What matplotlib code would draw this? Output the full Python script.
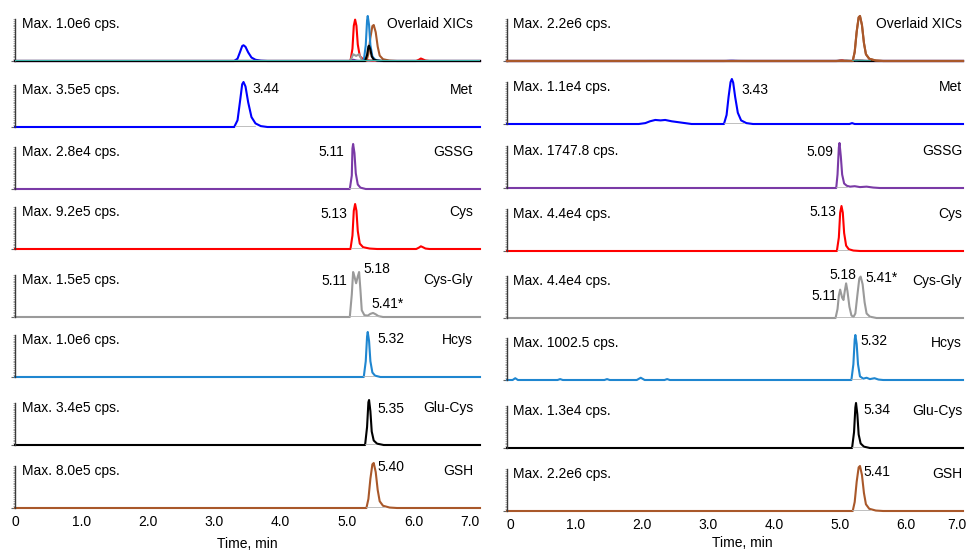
import numpy as np
import matplotlib
matplotlib.use("Agg")
import matplotlib.pyplot as plt
from matplotlib.transforms import blended_transform_factory

plt.rcParams['font.family'] = ['Liberation Sans', 'DejaVu Sans']
plt.rcParams['font.size'] = 10

# ---- data (time in min, intensity relative to panel max) ----
compounds = ['Met', 'GSSG', 'Cys', 'Cys-Gly', 'Hcys', 'Glu-Cys', 'GSH']
colors = ['#0000ff', '#7a3aa6', '#ff0000', '#9a9a9a', '#1f86d0', '#000000', '#a9582a']

left_max_cps = [1.0e6, 3.5e5, 2.8e4, 9.2e5, 1.5e5, 1.0e6, 3.4e5, 8.0e5]
left_max_text = ['1.0e6', '3.5e5', '2.8e4', '9.2e5', '1.5e5', '1.0e6', '3.4e5', '8.0e5']
right_max_cps = [2.2e6, 1.1e4, 1747.8, 4.4e4, 4.4e4, 1002.5, 1.3e4, 2.2e6]
right_max_text = ['2.2e6', '1.1e4', '1747.8', '4.4e4', '4.4e4', '1002.5', '1.3e4', '2.2e6']

time_ticks = [0, 1, 2, 3, 4, 5, 6, 7]
time_tick_labels = ['0', '1.0', '2.0', '3.0', '4.0', '5.0', '6.0', '7.0']

# left sample
met_left_t = [3.30, 3.35, 3.39, 3.42, 3.44, 3.47, 3.51, 3.56, 3.62, 3.70, 3.80]
met_left_i = [0, 0.15, 0.6, 0.95, 1.0, 0.9, 0.55, 0.22, 0.08, 0.02, 0]
gssg_left_t = [5.04, 5.07, 5.08, 5.09, 5.11, 5.13, 5.16, 5.20, 5.28]
gssg_left_i = [0, 0.3, 0.9, 1.0, 0.8, 0.35, 0.1, 0.03, 0]
cys_left_t = [5.05, 5.08, 5.10, 5.12, 5.14, 5.16, 5.19, 5.24, 5.34, 5.45,
              6.04, 6.08, 6.11, 6.14, 6.18, 6.24]
cys_left_i = [0, 0.3, 0.85, 1.0, 0.85, 0.4, 0.12, 0.04, 0.01, 0,
              0, 0.03, 0.06, 0.04, 0.01, 0]
cysgly_left_t = [5.04, 5.07, 5.09, 5.11, 5.135, 5.16, 5.18, 5.20, 5.22, 5.26,
                 5.31, 5.35, 5.39, 5.43, 5.47, 5.54]
cysgly_left_i = [0, 0.5, 1.0, 0.9, 0.75, 0.9, 1.0, 0.6, 0.15, 0.04,
                 0.03, 0.07, 0.09, 0.06, 0.02, 0]
hcys_left_t = [5.25, 5.28, 5.30, 5.31, 5.33, 5.35, 5.38, 5.42, 5.50]
hcys_left_i = [0, 0.35, 0.9, 1.0, 0.8, 0.35, 0.1, 0.03, 0]
glucys_left_t = [5.27, 5.30, 5.32, 5.33, 5.35, 5.37, 5.40, 5.45, 5.55]
glucys_left_i = [0, 0.4, 0.95, 1.0, 0.75, 0.3, 0.1, 0.03, 0]
gsh_left_t = [5.29, 5.32, 5.35, 5.38, 5.40, 5.43, 5.46, 5.49, 5.54, 5.64, 5.75]
gsh_left_i = [0, 0.2, 0.65, 0.97, 1.0, 0.8, 0.4, 0.15, 0.05, 0.01, 0]

# right sample
met_right_t = [1.95, 2.05, 2.12, 2.20, 2.28, 2.35, 2.45, 2.55, 2.65, 2.75,
               3.24, 3.28, 3.31, 3.34, 3.36, 3.38, 3.41, 3.45, 3.50, 3.58, 3.68,
               5.14, 5.18, 5.22]
met_right_i = [0, 0.02, 0.06, 0.09, 0.08, 0.09, 0.06, 0.04, 0.02, 0,
               0, 0.2, 0.6, 0.93, 1.0, 0.92, 0.6, 0.25, 0.08, 0.02, 0,
               0, 0.02, 0]
gssg_right_t = [4.94, 4.96, 4.98, 4.99, 5.01, 5.03, 5.06, 5.10, 5.15, 5.22,
                5.30, 5.40, 5.50, 5.60]
gssg_right_i = [0, 0.3, 0.9, 1.0, 0.7, 0.3, 0.1, 0.05, 0.03, 0.04,
                0.02, 0.03, 0.01, 0]
cys_right_t = [4.95, 4.98, 5.00, 5.02, 5.04, 5.06, 5.09, 5.13, 5.20, 5.30]
cys_right_i = [0, 0.3, 0.85, 1.0, 0.85, 0.4, 0.12, 0.04, 0.01, 0]
cysgly_right_t = [4.93, 4.96, 4.98, 5.00, 5.03, 5.05, 5.07, 5.09, 5.11, 5.14,
                  5.17, 5.20, 5.23, 5.26, 5.29, 5.31, 5.34, 5.37, 5.40, 5.45, 5.55]
cysgly_right_i = [0, 0.2, 0.5, 0.63, 0.45, 0.40, 0.6, 0.77, 0.6, 0.25,
                  0.06, 0.02, 0.1, 0.5, 0.88, 0.92, 0.75, 0.35, 0.1, 0.03, 0]
hcys_right_t = [0.04, 0.08, 0.12, 0.72, 0.76, 0.80, 1.43, 1.47, 1.51, 1.92,
                1.98, 2.04, 2.34, 2.38, 2.42, 5.17, 5.20, 5.22, 5.23, 5.25,
                5.27, 5.30, 5.35, 5.40, 5.45, 5.52, 5.58, 5.65]
hcys_right_i = [0, 0.04, 0, 0, 0.02, 0, 0, 0.02, 0, 0,
                0.05, 0, 0, 0.02, 0, 0, 0.35, 0.9, 1.0, 0.8,
                0.35, 0.08, 0.03, 0.05, 0.02, 0.04, 0.01, 0]
glucys_right_t = [5.18, 5.21, 5.23, 5.24, 5.26, 5.28, 5.31, 5.36, 5.45]
glucys_right_i = [0, 0.35, 0.9, 1.0, 0.75, 0.3, 0.1, 0.03, 0]
gsh_right_t = [5.19, 5.22, 5.25, 5.28, 5.30, 5.33, 5.36, 5.39, 5.44, 5.54, 5.65]
gsh_right_i = [0, 0.2, 0.65, 0.97, 1.0, 0.8, 0.4, 0.15, 0.05, 0.01, 0]

left_traces = [(met_left_t, met_left_i), (gssg_left_t, gssg_left_i),
               (cys_left_t, cys_left_i), (cysgly_left_t, cysgly_left_i),
               (hcys_left_t, hcys_left_i), (glucys_left_t, glucys_left_i),
               (gsh_left_t, gsh_left_i)]
right_traces = [(met_right_t, met_right_i), (gssg_right_t, gssg_right_i),
                (cys_right_t, cys_right_i), (cysgly_right_t, cysgly_right_i),
                (hcys_right_t, hcys_right_i), (glucys_right_t, glucys_right_i),
                (gsh_right_t, gsh_right_i)]

# integration baselines under the peaks (start, end)
left_windows = [(3.32, 3.62), (5.05, 5.18), (5.07, 5.22), (5.05, 5.48),
                (5.26, 5.40), (5.28, 5.42), (5.30, 5.55)]
right_windows = [(3.25, 3.55), (4.95, 5.10), (4.96, 5.12), (4.94, 5.45),
                 (5.18, 5.32), (5.19, 5.33), (5.20, 5.45)]

# peak labels: (row, text, time, height fraction, alignment)
left_labels = [(1, '3.44', 3.57, 0.84, 'left'), (2, '5.11', 4.95, 0.82, 'right'),
               (3, '5.13', 5.00, 0.78, 'right'), (4, '5.11', 5.00, 0.79, 'right'),
               (4, '5.18', 5.24, 1.06, 'left'), (4, '5.41*', 5.37, 0.30, 'left'),
               (5, '5.32', 5.45, 0.84, 'left'), (6, '5.35', 5.45, 0.80, 'left'),
               (7, '5.40', 5.45, 0.91, 'left')]
right_labels = [(1, '3.43', 3.50, 0.76, 'left'), (2, '5.09', 4.89, 0.79, 'right'),
                (3, '5.13', 4.94, 0.86, 'right'), (4, '5.11', 4.95, 0.50, 'right'),
                (4, '5.18', 5.045, 0.95, 'center'), (4, '5.41*', 5.38, 0.90, 'left'),
                (5, '5.32', 5.30, 0.87, 'left'), (6, '5.34', 5.35, 0.84, 'left'),
                (7, '5.41', 5.35, 0.87, 'left')]

# ---- layout (pixels of a 968 x 554 canvas) ----
W, H = 968, 554
left_base = [61, 127, 189, 249, 317, 377, 445, 508]
right_base = [61, 124, 188, 251, 318, 380, 448, 511]
panel_h = 45
line_w = 1.5

fig = plt.figure(figsize=(W / 100, H / 100), dpi=100)


def make_axes(x0, x1, base):
    return fig.add_axes([x0 / W, 1 - base / H, (x1 - x0) / W, panel_h / H])


def style_axes(ax, xlim, ticks, labels):
    ax.set_xticks(ticks)
    ax.set_xticklabels(labels)
    ax.set_xlim(*xlim)
    ax.set_ylim(0, 1.0)
    ax.patch.set_visible(False)
    for s in ['top', 'right', 'bottom']:
        ax.spines[s].set_visible(False)
    ax.spines['left'].set_bounds(0, 0.93)
    ax.spines['left'].set_color('#3a3a3a')
    ax.spines['left'].set_linewidth(1.0)
    ax.set_yticks([0])
    ax.set_yticklabels([])
    ax.set_yticks(np.linspace(0, 0.93, 24), minor=True)
    ax.tick_params(axis='y', which='major', length=3, width=0.8, color='#666666')
    ax.tick_params(axis='y', which='minor', length=1.5, width=0.5, color='#8a8a8a')
    ax.tick_params(axis='x', length=0, pad=5, labelsize=10)


def full_trace(t, i, xlim):
    return [xlim[0]] + list(t) + [xlim[1]], [0] + list(i) + [0]


columns = [
    dict(x0=15, x1=480, xlim=(0, 7.0), base=left_base, traces=left_traces,
         maxc=left_max_cps, maxt=left_max_text, windows=left_windows,
         labels=left_labels, name_x=0.985, max_x=0.015, top_color='#3cb4aa',
         ticks=time_ticks, tick_labels=time_tick_labels),
    dict(x0=507, x1=963, xlim=(-0.045, 6.86), base=right_base, traces=right_traces,
         maxc=right_max_cps, maxt=right_max_text, windows=right_windows,
         labels=right_labels, name_x=0.998, max_x=0.013, top_color=None,
         ticks=time_ticks[:-1], tick_labels=time_tick_labels[:-1]),
]

for col in columns:
    axes = [make_axes(col['x0'], col['x1'], b) for b in col['base']]
    xlim = col['xlim']
    for ax in axes:
        style_axes(ax, xlim, col['ticks'], col['tick_labels'])

    # overlaid XICs, scaled to the overall max
    ax = axes[0]
    order = [0, 1, 2, 3, 6, 4, 5] if col['top_color'] else [0, 1, 2, 3, 4, 5, 6]
    for k in order:
        t, i = full_trace(*col['traces'][k], xlim)
        scale = col['maxc'][k + 1] / col['maxc'][0]
        ax.plot(t, np.array(i) * scale, color=colors[k], lw=line_w,
                clip_on=False, solid_joinstyle='round')
    if col['top_color']:
        ax.plot(xlim, [0, 0], color=col['top_color'], lw=line_w, zorder=3)
    else:
        t, i = full_trace(*col['traces'][6], xlim)
        ax.plot(t, i, color=colors[6], lw=line_w, clip_on=False, zorder=3)
        ax.plot(col['windows'][6], [0, 0], color='#3cb4aa', lw=1.2, zorder=4)
    ax.text(col['max_x'], 0.82, 'Max. %s cps.' % col['maxt'][0],
            transform=ax.transAxes, ha='left', va='center')
    ax.text(col['name_x'], 0.82, 'Overlaid XICs', transform=ax.transAxes,
            ha='right', va='center')

    # single XIC panels
    for k, name in enumerate(compounds):
        ax = axes[k + 1]
        t, i = full_trace(*col['traces'][k], xlim)
        ax.plot(t, i, color=colors[k], lw=line_w, clip_on=False,
                solid_joinstyle='round')
        ax.plot(col['windows'][k], [0, 0], color='#b4b4b4', lw=1.2, zorder=3)
        ax.text(col['max_x'], 0.82, 'Max. %s cps.' % col['maxt'][k + 1],
                transform=ax.transAxes, ha='left', va='center')
        ax.text(col['name_x'], 0.82, name, transform=ax.transAxes,
                ha='right', va='center')

    for row, txt, tx, fy, ha in col['labels']:
        ax = axes[row]
        tr = blended_transform_factory(ax.transData, ax.transAxes)
        ax.text(tx, fy, txt, transform=tr, ha=ha, va='center')

    for ax in axes[:-1]:
        ax.tick_params(axis='x', labelbottom=False)
    bottom = axes[-1]
    bottom.set_xlabel('Time, min', labelpad=6, fontsize=10)
    if col['top_color']:
        bottom.get_xticklabels()[-1].set_ha('right')
    else:
        # the 7.0 tick lies past the plotted range, at the canvas edge
        tr = blended_transform_factory(bottom.transData, bottom.transAxes)
        bottom.annotate(time_tick_labels[-1], xy=(6.92, 0), xycoords=tr,
                        xytext=(0, -5), textcoords='offset points',
                        ha='right', va='top', annotation_clip=False)
        bottom.xaxis.set_label_coords((742 - col['x0']) / (col['x1'] - col['x0']),
                                      -0.55)

fig.savefig('out.png', dpi=100)
